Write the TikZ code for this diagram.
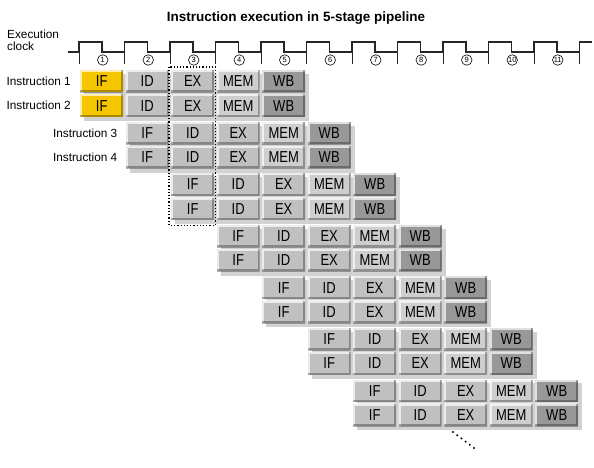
\documentclass[tikz,border=0pt]{standalone}
\usepackage{fontspec}
\setmainfont{Liberation Sans}
\usetikzlibrary{positioning,calc,backgrounds}

\definecolor{ifYellow}{RGB}{245,198,0}
\definecolor{stageGray}{RGB}{192,192,192}
\definecolor{memGray}{RGB}{206,206,206}
\definecolor{wbGray}{RGB}{152,152,152}
\definecolor{shadowGray}{RGB}{210,210,210}

\tikzset{
  stageBox/.style={
    rectangle,
    anchor=north west,
    minimum width=43pt,
    minimum height=22.3pt,
    inner sep=0pt,
    fill=stageGray,
    font=\fontsize{13}{13}\selectfont,
    path picture={
      \draw[white, opacity=0.7, line width=4pt]
        (path picture bounding box.south west) -- (path picture bounding box.north west)
        -- (path picture bounding box.north east);
      \draw[black, opacity=0.3, line width=4pt]
        (path picture bounding box.south west) -- (path picture bounding box.south east)
        -- (path picture bounding box.north east);
    }
  },
  ifBox/.code={\ifnum\p=0 \pgfkeysalso{stageBox,fill=ifYellow}\else\pgfkeysalso{stageBox}\fi},
  memBox/.style={stageBox, fill=memGray},
  wbBox/.style={stageBox, fill=wbGray},
  pairShadow/.style={fill=shadowGray},
  clockLine/.style={draw=black!85, line width=1.6pt},
  tickLine/.style={draw=black!85, line width=1pt},
  cycleNum/.style={
    circle,
    draw,
    line width=0.6pt,
    minimum size=10.5pt,
    inner sep=0pt,
    font=\fontsize{7.5}{7.5}\selectfont
  },
  instrLabel/.style={inner sep=0pt, font=\fontsize{11.8}{12}\selectfont},
  titleText/.style={inner sep=0pt, font=\bfseries\fontsize{13.5}{14}\selectfont},
  cycleWindow/.style={dotted, line width=1.2pt}
}

\begin{document}
\begin{tikzpicture}[x=1pt, y=-1pt]
  \useasboundingbox (0,0) rectangle (594,468);

  \node[titleText] (title) at (296,18) {Instruction execution in 5-stage pipeline};
  \node[instrLabel, anchor=north west, align=left] (clk) at (7,30)
    {Execution\\clock};

  % clock signal
  \draw[clockLine] (68,52)
    \foreach \k in {0,...,10} {
      -- ({79+\k*45.5},52) -- ({79+\k*45.5},42) -- ({102+\k*45.5},42) -- ({102+\k*45.5},52)
    } -- (579.5,52) -- (579.5,42) -- (592,42);
  \foreach \k in {0,...,11}
    \draw[tickLine] ({79+\k*45.5},52) -- ({79+\k*45.5},64);
  \foreach \k in {1,...,11}
    \node[cycleNum] (cyc-\k) at ({79+(\k-0.5)*45.5+1},60) {\k};

  % pipeline stages
  \foreach \p in {0,...,6} {
    \foreach \r in {0,1} {
      \foreach \s/\txt/\sty in {0/IF/ifBox,1/ID/stageBox,2/EX/stageBox,3/MEM/memBox,4/WB/wbBox} {
        \node[\sty] (st-\p-\r-\s) at ({80+(\p+\s)*45.5},{70+\p*51.55+\r*24.3})
          {\scalebox{1}[1.22]{\txt}};
      }
    }
  }
  \begin{scope}[on background layer]
    \foreach \p in {0,...,6}
      \fill[pairShadow] ($(st-\p-0-0.north west)+(4,4)$) rectangle ($(st-\p-1-4.south east)+(4,4)$);
  \end{scope}

  \node[instrLabel, left=9pt of st-0-0-0] (lab1) {Instruction 1};
  \node[instrLabel, left=9pt of st-0-1-0] (lab2) {Instruction 2};
  \node[instrLabel, left=8pt of st-1-0-0] (lab3) {Instruction 3};
  \node[instrLabel, left=8pt of st-1-1-0] (lab4) {Instruction 4};

  \draw[cycleWindow] ($(st-0-0-2.north west)+(-2,-3)$) rectangle ($(st-2-1-0.south east)+(1,5)$);

  % more instructions follow
  \foreach \i in {0,...,5}
    \fill ({453+\i*4.2},{432+\i*3.2}) circle (1.1pt);
\end{tikzpicture}
\end{document}
